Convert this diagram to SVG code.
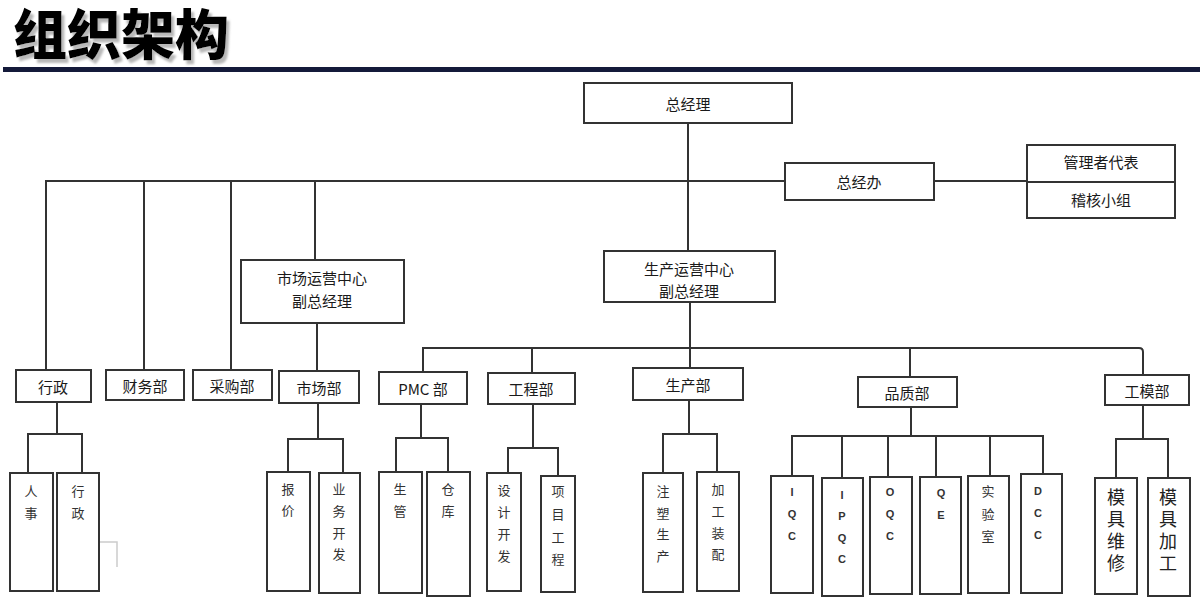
<svg xmlns="http://www.w3.org/2000/svg" width="1200" height="603" viewBox="0 0 1200 603">
<style>
.bx{fill:#fff;stroke:#333;stroke-width:2}
.cn{fill:none;stroke:#333;stroke-width:2}
.t{font-family:"Noto Sans CJK SC",sans-serif;font-size:15px;fill:#1a1a1a;text-anchor:middle;dominant-baseline:central}
.s{font-family:"Noto Sans CJK SC",sans-serif;font-size:13px;fill:#333;text-anchor:middle;dominant-baseline:central}
.l{font-family:"Liberation Sans","Noto Sans CJK SC",sans-serif;font-size:11px;font-weight:bold;fill:#333;text-anchor:middle;dominant-baseline:central}
.b{font-family:"Noto Sans CJK SC",sans-serif;font-size:18px;fill:#222;text-anchor:middle;dominant-baseline:central}
.title{font-family:"Noto Sans CJK SC",sans-serif;font-size:54px;font-weight:900}
</style>
<defs>
<filter id="sh" x="-10%" y="-20%" width="130%" height="150%">
<feDropShadow dx="3" dy="4" stdDeviation="1.2" flood-color="#888" flood-opacity="0.6"/>
</filter>
</defs>
<rect width="1200" height="603" fill="#fff"/>
<g id="title">
<text class="title" x="13" y="55" fill="#000" filter="url(#sh)">组织架构</text>
<rect x="3" y="67" width="1197" height="5" fill="#141a3a"/>
</g>
<g id="connectors">
<path class="cn" d="M688,123 V251"/>
<path class="cn" d="M45,181 H785 M934,181 H1028"/>
<path class="cn" d="M46,181 V370 M144,181 V370 M231,181 V370 M315,181 V260"/>
<path class="cn" d="M317,323 V371"/>
<path class="cn" d="M690,302 V368"/>
<path class="cn" d="M423,372 V348 H1139 Q1143,348 1143,352 V375 M532,348 V373 M910,348 V377"/>
<path class="cn" d="M57,402 V434 M28,473 V434 H82 V473"/>
<path class="cn" d="M318,403 V439 M288,472 V439 H343 V473"/>
<path class="cn" d="M421,404 V438 M396,472 V438 H448 V472"/>
<path class="cn" d="M533,404 V448 M508,473 V448 H558 V476"/>
<path class="cn" d="M689,400 V434 M663,473 V434 H717 V472"/>
<path class="cn" d="M911,407 V436 M792,476 V436 H1043 V474 M842,436 V478 M888,436 V477 M936,436 V477 M990,436 V476"/>
<path class="cn" d="M1143,405 V439 M1116,478 V439 H1168 V478"/>
<path d="M88,542 H117 V567" fill="none" stroke="#ccc" stroke-width="1.5"/>
</g>
<g id="n-gm"><rect class="bx" x="584" y="83" width="208" height="40"/><text class="t" x="688" y="103">总经理</text></g>
<g id="n-gmo"><rect class="bx" x="785" y="163" width="149" height="37"/><text class="t" x="859" y="181">总经办</text></g>
<g id="n-mr"><rect class="bx" x="1027" y="145" width="148" height="73"/><line class="cn" x1="1027" y1="182" x2="1175" y2="182"/><text class="t" x="1101" y="161">管理者代表</text><text class="t" x="1101" y="199">稽核小组</text></g>
<g id="n-mkt-vp"><rect class="bx" x="241" y="260" width="163" height="63"/><text class="t" x="322" y="277">市场运营中心</text><text class="t" x="322" y="300">副总经理</text></g>
<g id="n-prod-vp"><rect class="bx" x="604" y="251" width="171" height="51"/><text class="t" x="689" y="268">生产运营中心</text><text class="t" x="689" y="290">副总经理</text></g>
<g id="n-admin"><rect class="bx" x="16" y="370" width="75" height="32"/><text class="t" x="53" y="386">行政</text></g>
<g id="n-fin"><rect class="bx" x="106" y="370" width="78" height="30"/><text class="t" x="145" y="385">财务部</text></g>
<g id="n-pur"><rect class="bx" x="193" y="370" width="79" height="30"/><text class="t" x="232" y="385">采购部</text></g>
<g id="n-mkt"><rect class="bx" x="279" y="371" width="80" height="32"/><text class="t" x="319" y="387">市场部</text></g>
<g id="n-pmc"><rect class="bx" x="379" y="372" width="88" height="32"/><text class="t" x="423" y="388" font-family="Liberation Sans,Noto Sans CJK SC,sans-serif">PMC 部</text></g>
<g id="n-eng"><rect class="bx" x="488" y="373" width="87" height="31"/><text class="t" x="531" y="388">工程部</text></g>
<g id="n-prod"><rect class="bx" x="633" y="368" width="110" height="32"/><text class="t" x="688" y="384">生产部</text></g>
<g id="n-qa"><rect class="bx" x="858" y="377" width="99" height="30"/><text class="t" x="907" y="392">品质部</text></g>
<g id="n-mold"><rect class="bx" x="1105" y="375" width="84" height="30"/><text class="t" x="1147" y="390">工模部</text></g>
<g id="n-hr"><rect class="bx" x="10" y="473" width="43" height="118"/><text class="s"><tspan x="31" y="490">人</tspan><tspan x="31" y="512">事</tspan></text></g>
<g id="n-adm2"><rect class="bx" x="57" y="473" width="42" height="118"/><text class="s"><tspan x="78" y="490">行</tspan><tspan x="78" y="512">政</tspan></text></g>
<g id="n-quote"><rect class="bx" x="267" y="472" width="43" height="119"/><text class="s"><tspan x="288" y="488">报</tspan><tspan x="288" y="509">价</tspan></text></g>
<g id="n-bd"><rect class="bx" x="319" y="473" width="41" height="120"/><text class="s"><tspan x="339" y="488">业</tspan><tspan x="339" y="510">务</tspan><tspan x="339" y="532">开</tspan><tspan x="339" y="553">发</tspan></text></g>
<g id="n-pc"><rect class="bx" x="379" y="472" width="43" height="121"/><text class="s"><tspan x="400" y="488">生</tspan><tspan x="400" y="510">管</tspan></text></g>
<g id="n-wh"><rect class="bx" x="427" y="472" width="43" height="124"/><text class="s"><tspan x="448" y="488">仓</tspan><tspan x="448" y="510">库</tspan></text></g>
<g id="n-dd"><rect class="bx" x="487" y="473" width="34" height="118"/><text class="s"><tspan x="504" y="489">设</tspan><tspan x="504" y="511">计</tspan><tspan x="504" y="533">开</tspan><tspan x="504" y="555">发</tspan></text></g>
<g id="n-pe"><rect class="bx" x="541" y="476" width="34" height="116"/><text class="s"><tspan x="558" y="490">项</tspan><tspan x="558" y="513">目</tspan><tspan x="558" y="536">工</tspan><tspan x="558" y="558">程</tspan></text></g>
<g id="n-im"><rect class="bx" x="643" y="473" width="40" height="119"/><text class="s"><tspan x="663" y="490">注</tspan><tspan x="663" y="512">塑</tspan><tspan x="663" y="533">生</tspan><tspan x="663" y="555">产</tspan></text></g>
<g id="n-asm"><rect class="bx" x="697" y="472" width="42" height="119"/><text class="s"><tspan x="718" y="488">加</tspan><tspan x="718" y="510">工</tspan><tspan x="718" y="532">装</tspan><tspan x="718" y="553">配</tspan></text></g>
<g id="n-iqc"><rect class="bx" x="771" y="476" width="42" height="117"/><text class="l"><tspan x="792" y="492">I</tspan><tspan x="792" y="514">Q</tspan><tspan x="792" y="536">C</tspan></text></g>
<g id="n-ipqc"><rect class="bx" x="822" y="478" width="41" height="118"/><text class="l"><tspan x="842" y="495">I</tspan><tspan x="842" y="516">P</tspan><tspan x="842" y="538">Q</tspan><tspan x="842" y="559">C</tspan></text></g>
<g id="n-oqc"><rect class="bx" x="870" y="477" width="42" height="117"/><text class="l"><tspan x="890" y="492">O</tspan><tspan x="890" y="514">Q</tspan><tspan x="890" y="536">C</tspan></text></g>
<g id="n-qe"><rect class="bx" x="920" y="477" width="41" height="117"/><text class="l"><tspan x="941" y="493">Q</tspan><tspan x="941" y="515">E</tspan></text></g>
<g id="n-lab"><rect class="bx" x="968" y="476" width="41" height="117"/><text class="s"><tspan x="988" y="490">实</tspan><tspan x="988" y="513">验</tspan><tspan x="988" y="535">室</tspan></text></g>
<g id="n-dcc"><rect class="bx" x="1021" y="474" width="41" height="119"/><text class="l"><tspan x="1038" y="491">D</tspan><tspan x="1038" y="513">C</tspan><tspan x="1038" y="535">C</tspan></text></g>
<g id="n-mm"><rect class="bx" x="1095" y="478" width="42" height="116"/><text class="b"><tspan x="1116" y="496">模</tspan><tspan x="1116" y="518">具</tspan><tspan x="1116" y="540">维</tspan><tspan x="1116" y="562">修</tspan></text></g>
<g id="n-mp"><rect class="bx" x="1148" y="478" width="42" height="118"/><text class="b"><tspan x="1168" y="496">模</tspan><tspan x="1168" y="518">具</tspan><tspan x="1168" y="540">加</tspan><tspan x="1168" y="562">工</tspan></text></g>
</svg>
